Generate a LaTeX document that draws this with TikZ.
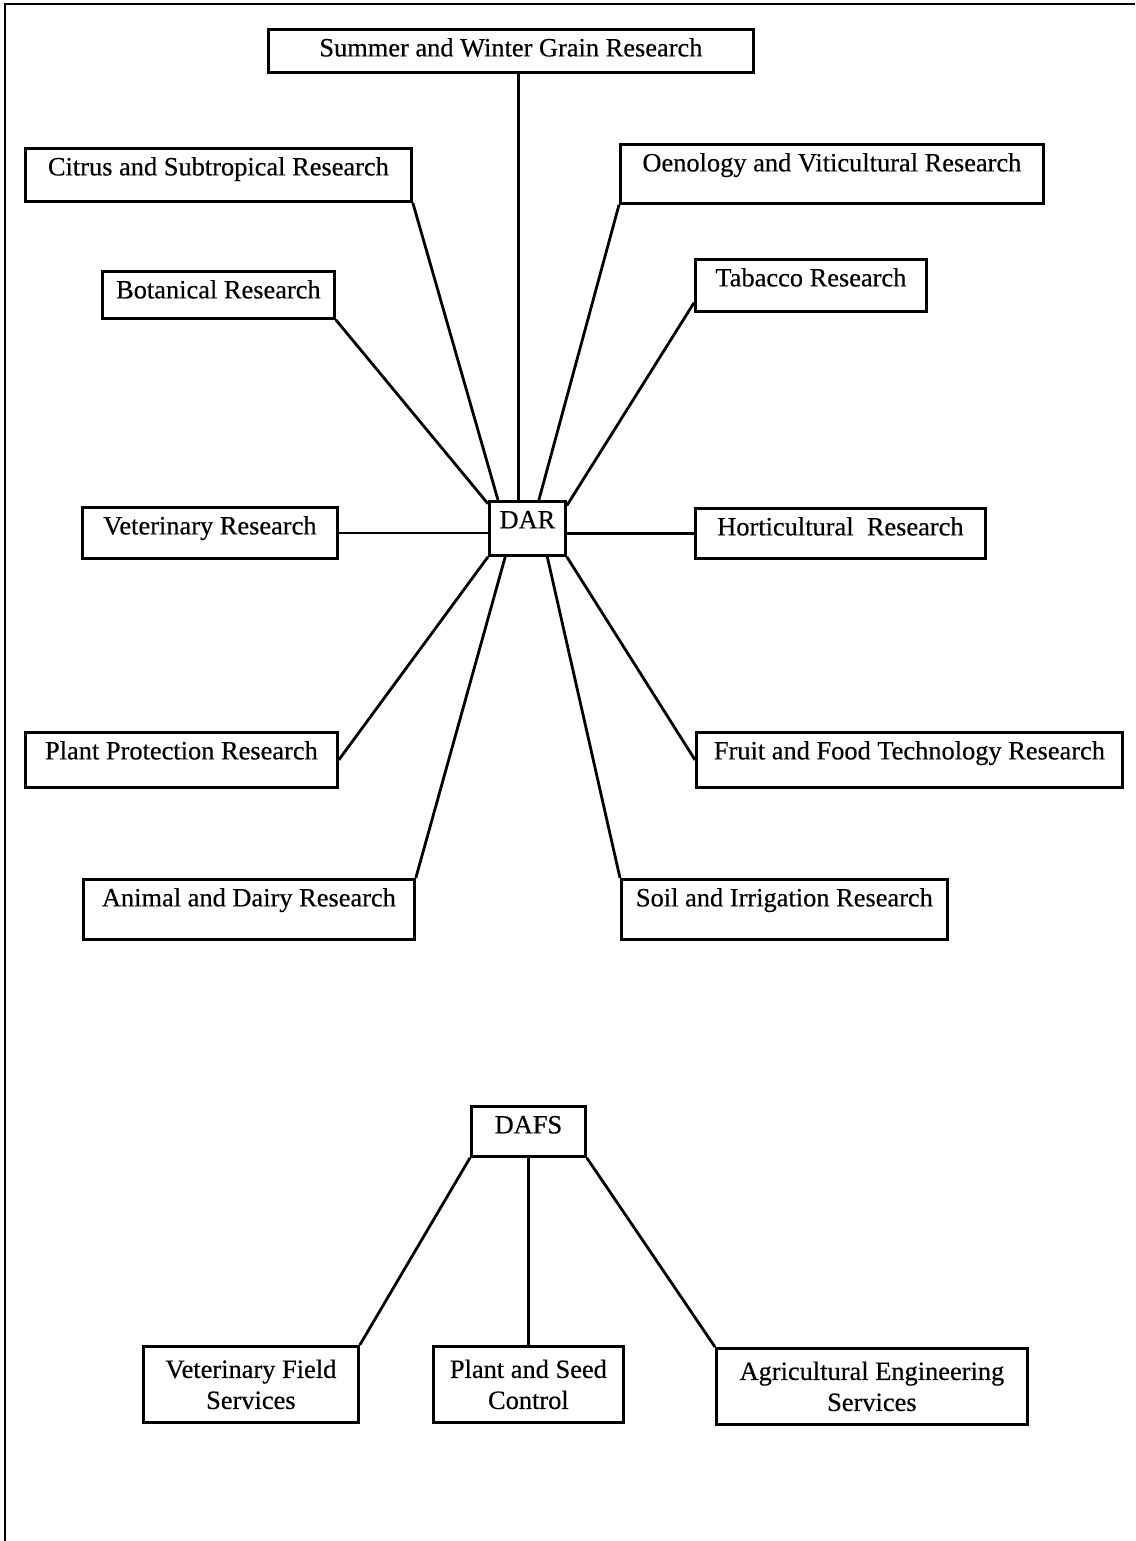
\documentclass[tikz,border=0pt]{standalone}
\usepackage{fontspec}
\setmainfont{Liberation Serif}[BoldFont=Liberation Serif, BoldFeatures={FakeBold=0.45}]
\begin{document}
\begin{tikzpicture}[%
    x=0.5pt, y=-0.5pt,          % Work in pixels of the page, y going down
    line width=1.4pt,           % Heavy lines, as on the scanned chart
    ]
% -------------------------------------------------
% Box styles: the corner is the north west anchor,
% <text height> keeps the label near the top of the box
\tikzset{
  base/.style={draw, anchor=north west, inner sep=0pt,
    font=\fontsize{13.2}{15.5}\selectfont\bfseries},
  unit/.style={base, text height=13.5pt},
  unit2/.style={base, align=center, minimum height=38pt},
  link/.style={draw}
}
\useasboundingbox (0,0) rectangle (1135,1541);
% page frame
\draw (5,1541) -- (5,4) -- (1135,4);
% -------------------------------------------------
% DAR and its research units
\node [unit, minimum width=38pt, text depth=13.5pt] (dar) at (488,500) {DAR};
\node [unit, minimum width=242.5pt, text depth=8pt] (summer) at (267,28) {Summer and Winter Grain Research};
\node [unit, minimum width=193pt, text depth=13pt] (citrus) at (24,147) {Citrus and Subtropical Research};
\node [unit, minimum width=211.5pt, text depth=16pt] (oeno) at (619,143) {Oenology and Viticultural Research};
\node [unit, minimum width=116pt, text depth=10pt] (bot) at (101,270) {Botanical Research};
\node [unit, minimum width=115.5pt, text depth=12.5pt] (tab) at (694,258) {Tabacco Research};
\node [unit, minimum width=127.5pt, text depth=12pt] (vet) at (81,506) {Veterinary Research};
\node [unit, minimum width=145pt, text depth=11.5pt] (hort) at (694,507) {Horticultural\ \ Research};
\node [unit, minimum width=156pt, text depth=14pt] (pp) at (24,731) {Plant Protection Research};
\node [unit, minimum width=213pt, text depth=14pt] (fruit) at (695,731) {Fruit and Food Technology Research};
\node [unit, minimum width=165.5pt, text depth=16.5pt] (animal) at (82,878) {Animal and Dairy Research};
\node [unit, minimum width=163pt, text depth=16.5pt] (soil) at (620,878) {Soil and Irrigation Research};

\draw[link] (dar.108 |- summer.south) -- (dar.108);	%Summer and Winter Grain
\draw[link] (citrus.south east) -- (dar.136);	%Citrus and Subtropical
\draw[link] (oeno.south west) -- (dar.68);	%Oenology and Viticultural
\draw[link] (bot.south east) -- (dar.148);	%Botanical
\draw[link] ([yshift=5pt]tab.south west) -- (dar.30);	%Tabacco
\draw[link] (vet.east) -- (vet.east -| dar.west);	%Veterinary
\draw[link] (hort.west) -- (hort.west -| dar.east);	%Horticultural
\draw[link] (pp.east) -- (dar.south west);	%Plant Protection
\draw[link] (fruit.west) -- (dar.south east);	%Fruit and Food Technology
\draw[link] (animal.north east) -- (dar.232);	%Animal and Dairy
\draw[link] (soil.north west) -- (dar.305);	%Soil and Irrigation

% -------------------------------------------------
% DAFS and its services
\node [unit, minimum width=57pt, text depth=11.5pt] (dafs) at (470,1105) {DAFS};
\node [unit2, minimum width=107.5pt] (vfs) at (142,1345) {Veterinary Field\\Services};
\node [unit2, minimum width=95pt] (psc) at (432,1345) {Plant and Seed\\Control};
\node [unit2, minimum width=155.5pt] (aes) at (715,1347) {Agricultural Engineering\\Services};

\draw[link] (dafs.south west) -- (vfs.north east);	%Veterinary Field Services
\draw[link] (dafs.south) -- (psc.north);	%Plant and Seed Control
\draw[link] (dafs.south east) -- (aes.north west);	%Agricultural Engineering
% -------------------------------------------------
\end{tikzpicture}
\end{document}
